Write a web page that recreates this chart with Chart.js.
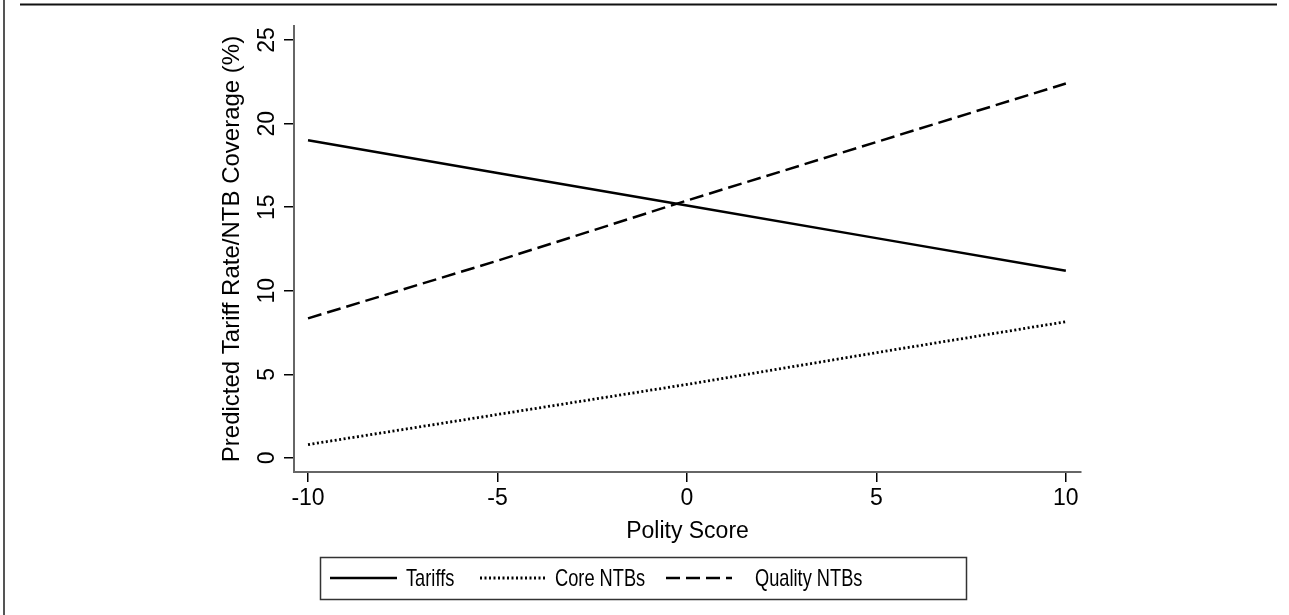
<!DOCTYPE html>
<html>
<head>
<meta charset="utf-8">
<script src="https://cdn.jsdelivr.net/npm/chart.js@4.4.0/dist/chart.umd.min.js"></script>
<style>
  html, body { margin: 0; padding: 0; background: #fff; }
  #wrap { width: 1289px; height: 615px; }
</style>
</head>
<body>
<div id="wrap"><canvas id="chart" width="1289" height="615"></canvas></div>
<script>
// values
const polityScores = [-10, -5, 0, 5, 10];
const tariffs = [19.0, 17.05, 15.1, 13.15, 11.2];
const coreNTBs = [0.8, 2.6, 4.4, 6.3, 8.15];
const qualityNTBs = [8.35, 11.8, 15.4, 18.9, 22.4];
const seriesNames = ["Tariffs", "Core NTBs", "Quality NTBs"];
const xTitle = "Polity Score";
const yTitle = "Predicted Tariff Rate/NTB Coverage (%)";

const FONT = "'Liberation Sans', Arial, Helvetica, sans-serif";

// turn x/y arrays into point objects
function toPoints(ys) {
  return polityScores.map((x, i) => ({ x: x, y: ys[i] }));
}

// outer frame lines + the boxed legend under the axis
const framePlugin = {
  id: "frame",
  beforeDraw(chart) {
    const ctx = chart.ctx;
    ctx.save();
    ctx.fillStyle = "#fff";
    ctx.fillRect(0, 0, chart.width, chart.height);
    ctx.strokeStyle = "#111";
    ctx.lineWidth = 2;
    ctx.beginPath();
    ctx.moveTo(20, 4.5);
    ctx.lineTo(1277, 4.5);
    ctx.stroke();
    ctx.strokeStyle = "#555";
    ctx.beginPath();
    ctx.moveTo(4, 0);
    ctx.lineTo(4, chart.height);
    ctx.stroke();
    ctx.restore();
  },
  afterDraw(chart) {
    const ctx = chart.ctx;
    ctx.save();
    // legend box
    ctx.strokeStyle = "#333";
    ctx.lineWidth = 1.5;
    ctx.strokeRect(320.5, 557.5, 646, 42);
    const items = [
      { x0: 330, x1: 397, tx: 406 },
      { x0: 480, x1: 545, tx: 555 },
      { x0: 666, x1: 732, tx: 755 },
    ];
    const yMid = 578;
    items.forEach((it, i) => {
      const ds = chart.data.datasets[i];
      ctx.strokeStyle = "#000";
      ctx.lineWidth = ds.borderWidth;
      ctx.setLineDash(ds.borderDash || []);
      ctx.beginPath();
      ctx.moveTo(it.x0, yMid);
      ctx.lineTo(it.x1, yMid);
      ctx.stroke();
      ctx.setLineDash([]);
      // legend text in the picture is condensed, squeeze it sideways
      ctx.save();
      ctx.translate(it.tx, yMid + 1);
      ctx.scale(0.76, 1);
      ctx.font = "24px " + FONT;
      ctx.textBaseline = "middle";
      ctx.fillStyle = "#000";
      ctx.fillText(seriesNames[i], 0, 0);
      ctx.restore();
    });
    ctx.restore();
  },
};

new Chart(document.getElementById("chart"), {
  type: "line",
  data: {
    datasets: [
      {
        label: seriesNames[0],
        data: toPoints(tariffs),
        borderColor: "#000",
        borderWidth: 2.5,
        pointRadius: 0,
        tension: 0,
      },
      {
        label: seriesNames[1],
        data: toPoints(coreNTBs),
        borderColor: "#000",
        borderWidth: 2.8,
        borderDash: [2, 2.5],
        pointRadius: 0,
        tension: 0,
      },
      {
        label: seriesNames[2],
        data: toPoints(qualityNTBs),
        borderColor: "#000",
        borderWidth: 2.5,
        borderDash: [14, 6],
        pointRadius: 0,
        tension: 0,
      },
    ],
  },
  options: {
    responsive: false,
    animation: false,
    layout: { padding: { left: 210, right: 208, top: 26, bottom: 68 } },
    plugins: {
      legend: { display: false },
      tooltip: { enabled: false },
    },
    scales: {
      x: {
        type: "linear",
        min: -10.37,
        max: 10.4,
        afterFit(scale) { scale.height = 75; },
        border: { display: true, color: "#666", width: 2 },
        grid: { display: true, drawOnChartArea: false, drawTicks: true, tickLength: 10, color: "#000", lineWidth: 1.5 },
        ticks: {
          stepSize: 5,
          includeBounds: false,
          padding: 3,
          color: "#000",
          font: { family: FONT, size: 23 },
          maxRotation: 0,
        },
        title: {
          display: true,
          text: xTitle,
          color: "#000",
          font: { family: FONT, size: 23 },
          padding: { top: 0, bottom: 2 },
        },
      },
      y: {
        type: "linear",
        min: -0.84,
        max: 25.84,
        afterFit(scale) { scale.width = 84; },
        border: { display: true, color: "#666", width: 2 },
        grid: { display: true, drawOnChartArea: false, drawTicks: true, tickLength: 10, color: "#000", lineWidth: 1.5 },
        ticks: {
          stepSize: 5,
          includeBounds: false,
          padding: 4,
          minRotation: 90,
          maxRotation: 90,
          crossAlign: "center",
          color: "#000",
          font: { family: FONT, size: 23 },
        },
        title: {
          display: true,
          text: yTitle,
          color: "#000",
          font: { family: FONT, size: 24 },
          padding: { top: 8, bottom: 0 },
        },
      },
    },
  },
  plugins: [framePlugin],
});
</script>
</body>
</html>
